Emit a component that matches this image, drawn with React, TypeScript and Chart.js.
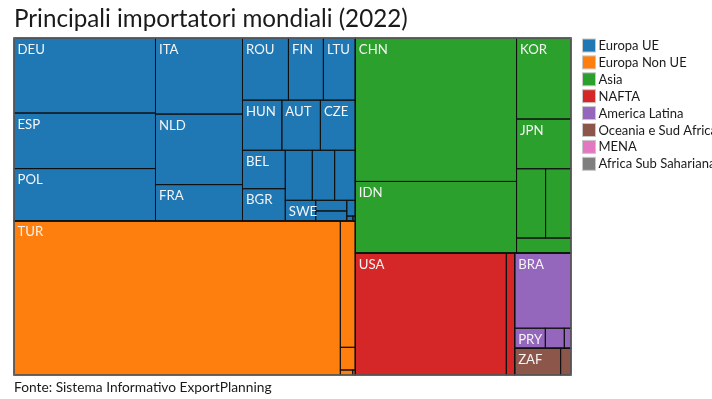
import React, { useEffect, useRef } from 'react';
import { Chart, registerables } from 'chart.js';

Chart.register(...registerables);

const TITLE = 'Principali importatori mondiali (2022)';
const CAPTION = 'Fonte: Sistema Informativo ExportPlanning';

const groups = [
  'Europa UE',
  'Europa Non UE',
  'Asia',
  'NAFTA',
  'America Latina',
  'Oceania e Sud Africa',
  'MENA',
  'Africa Sub Sahariana',
];
const groupColors = ['#1f77b4', '#ff7f0e', '#2ca02c', '#d62728', '#9467bd', '#8c564b', '#e377c2', '#7f7f7f'];

const countries = [
  'DEU', 'ESP', 'POL', 'ITA', 'NLD', 'FRA', 'ROU', 'FIN', 'LTU', 'HUN', 'AUT', 'CZE', 'BEL', 'BGR', 'DNK', 'SVK', 'PRT', 'SWE', 'GRC', 'HRV', 'SVN', 'LUX', 'EST',
  'TUR', 'GBR', 'SRB', 'CHE', 'NOR',
  'CHN', 'IDN', 'KOR', 'JPN', 'TWN', 'THA', 'VNM',
  'USA', 'MEX',
  'BRA', 'PRY', 'ARG', 'CHL',
  'ZAF', 'AUS',
];
const countryGroup = [
  'Europa UE', 'Europa UE', 'Europa UE', 'Europa UE', 'Europa UE', 'Europa UE', 'Europa UE', 'Europa UE', 'Europa UE', 'Europa UE', 'Europa UE', 'Europa UE', 'Europa UE', 'Europa UE', 'Europa UE', 'Europa UE', 'Europa UE', 'Europa UE', 'Europa UE', 'Europa UE', 'Europa UE', 'Europa UE', 'Europa UE',
  'Europa Non UE', 'Europa Non UE', 'Europa Non UE', 'Europa Non UE', 'Europa Non UE',
  'Asia', 'Asia', 'Asia', 'Asia', 'Asia', 'Asia', 'Asia',
  'NAFTA', 'NAFTA',
  'America Latina', 'America Latina', 'America Latina', 'America Latina',
  'Oceania e Sud Africa', 'Oceania e Sud Africa',
];
const importValues = [
  10600, 7850, 7400, 6612, 6125, 3158, 2852, 2170, 1984, 1970, 1930, 1750, 1640, 1379, 1350, 1115, 1035, 627, 330, 310, 135, 30, 12,
  50204, 1895, 340, 62, 13,
  23087, 11528, 4406, 2704, 2010, 1760, 816,
  18385, 1013,
  4230, 614, 380, 134,
  1228, 278,
];

const FONT = 'Lato, "Source Sans Pro", "Noto Sans", sans-serif';
const PHI = (1 + Math.sqrt(5)) / 2;

type Node = { name: string; value: number; color?: string; children?: Node[] };
type Rect = { node: Node; x0: number; y0: number; x1: number; y1: number };

function squarify(nodes: Node[], x0: number, y0: number, x1: number, y1: number, out: Rect[]) {
  const n = nodes.length;
  let i0 = 0;
  let i1 = 0;
  let value = nodes.reduce((s, d) => s + d.value, 0);
  while (i0 < n) {
    const dx = x1 - x0;
    const dy = y1 - y0;
    let sumValue = 0;
    do sumValue = nodes[i1++].value; while (!sumValue && i1 < n);
    let minValue = sumValue;
    let maxValue = sumValue;
    const alpha = Math.max(dy / dx, dx / dy) / (value * PHI);
    let beta = sumValue * sumValue * alpha;
    let minRatio = Math.max(maxValue / beta, beta / minValue);
    for (; i1 < n; ++i1) {
      const nodeValue = nodes[i1].value;
      sumValue += nodeValue;
      if (nodeValue < minValue) minValue = nodeValue;
      if (nodeValue > maxValue) maxValue = nodeValue;
      beta = sumValue * sumValue * alpha;
      const newRatio = Math.max(maxValue / beta, beta / minValue);
      if (newRatio > minRatio) {
        sumValue -= nodeValue;
        break;
      }
      minRatio = newRatio;
    }
    const row = nodes.slice(i0, i1);
    if (dx < dy) {
      const ny = value ? y0 + (dy * sumValue) / value : y1;
      let x = x0;
      const k = (x1 - x0) / sumValue;
      row.forEach((d) => {
        const nx = x + d.value * k;
        out.push({ node: d, x0: x, y0, x1: nx, y1: ny });
        x = nx;
      });
      y0 = ny;
    } else {
      const nx = value ? x0 + (dx * sumValue) / value : x1;
      let y = y0;
      const k = (y1 - y0) / sumValue;
      row.forEach((d) => {
        const ny = y + d.value * k;
        out.push({ node: d, x0, y0: y, x1: nx, y1: ny });
        y = ny;
      });
      x0 = nx;
    }
    value -= sumValue;
    i0 = i1;
  }
}

function buildTree(): Node[] {
  const tops: Node[] = groups.map((g, gi) => {
    const children: Node[] = [];
    countries.forEach((c, i) => {
      if (countryGroup[i] === g) children.push({ name: c, value: importValues[i], color: groupColors[gi] });
    });
    children.sort((a, b) => b.value - a.value);
    return { name: g, color: groupColors[gi], value: children.reduce((s, d) => s + d.value, 0), children };
  });
  return tops.filter((t) => t.value > 0).sort((a, b) => b.value - a.value);
}

const treemapPlugin = {
  id: 'treemapPlugin',
  beforeDraw(chart: any) {
    const ctx = chart.ctx;
    ctx.save();
    ctx.fillStyle = '#ffffff';
    ctx.fillRect(0, 0, chart.width, chart.height);
    ctx.restore();
  },
  afterDraw(chart: any) {
    const ctx: CanvasRenderingContext2D = chart.ctx;
    const xs = chart.scales.x;
    const ys = chart.scales.y;
    const L = xs.getPixelForValue(0);
    const R = xs.getPixelForValue(1);
    const T = ys.getPixelForValue(1);
    const B = ys.getPixelForValue(0);

    const tree = buildTree();
    const top: Rect[] = [];
    squarify(tree, L, T, R, B, top);
    const leaves: Rect[] = [];
    top.forEach((g) => {
      squarify(g.node.children || [], g.x0, g.y0, g.x1, g.y1, leaves);
    });

    ctx.save();
    leaves.forEach((r) => {
      ctx.fillStyle = r.node.color || '#999';
      ctx.fillRect(r.x0, r.y0, r.x1 - r.x0, r.y1 - r.y0);
    });
    ctx.strokeStyle = '#111';
    ctx.lineWidth = 1;
    leaves.forEach((r) => {
      ctx.strokeRect(r.x0, r.y0, r.x1 - r.x0, r.y1 - r.y0);
    });
    ctx.lineWidth = 1.2;
    top.forEach((r) => {
      ctx.strokeRect(r.x0, r.y0, r.x1 - r.x0, r.y1 - r.y0);
    });
    ctx.strokeStyle = '#8a8a8a';
    ctx.lineWidth = 1;
    ctx.strokeRect(L, T, R - L, B - T);

    // labels
    ctx.font = '13.2px ' + FONT;
    ctx.fillStyle = '#f4f4f4';
    ctx.textBaseline = 'alphabetic';
    ctx.textAlign = 'left';
    leaves.forEach((r) => {
      const w = r.x1 - r.x0;
      const h = r.y1 - r.y0;
      const tw = ctx.measureText(r.node.name).width;
      if (tw + 1 <= w && h >= 18) {
        ctx.fillText(r.node.name, r.x0 + 3.5, r.y0 + 15.5);
      }
    });

    // title
    ctx.fillStyle = '#1a1a1a';
    ctx.font = '24.2px ' + FONT;
    ctx.fillText(TITLE, 14, 27);
    // caption
    ctx.font = '13.75px ' + FONT;
    ctx.fillText(CAPTION, 14, 392);

    // legend
    ctx.font = '13px ' + FONT;
    groups.forEach((g, i) => {
      const y = 39 + i * 16.9;
      ctx.fillStyle = groupColors[i];
      ctx.fillRect(582.5, y, 13, 13);
      ctx.strokeStyle = '#c8c8c8';
      ctx.lineWidth = 1;
      ctx.strokeRect(582.5, y, 13, 13);
      ctx.fillStyle = '#1a1a1a';
      ctx.fillText(g, 598.5, y + 11);
    });
    ctx.restore();
  },
};

export default function App() {
  const ref = useRef<HTMLCanvasElement | null>(null);
  useEffect(() => {
    if (!ref.current) return;
    const chart = new Chart(ref.current, {
      type: 'scatter',
      data: { datasets: [] },
      options: {
        animation: false,
        responsive: false,
        devicePixelRatio: 1,
        layout: { padding: { left: 14, top: 38, right: 141, bottom: 24 } },
        scales: {
          x: { type: 'linear', min: 0, max: 1, display: false },
          y: { type: 'linear', min: 0, max: 1, display: false },
        },
        plugins: { legend: { display: false }, tooltip: { enabled: false }, title: { display: false } },
      },
      plugins: [treemapPlugin],
    });
    return () => chart.destroy();
  }, []);
  return (
    <div style={{ position: 'fixed', left: 0, top: 0, width: 712, height: 399, background: '#fff' }}>
      <canvas ref={ref} width={712} height={399} style={{ display: 'block' }} />
    </div>
  );
}
